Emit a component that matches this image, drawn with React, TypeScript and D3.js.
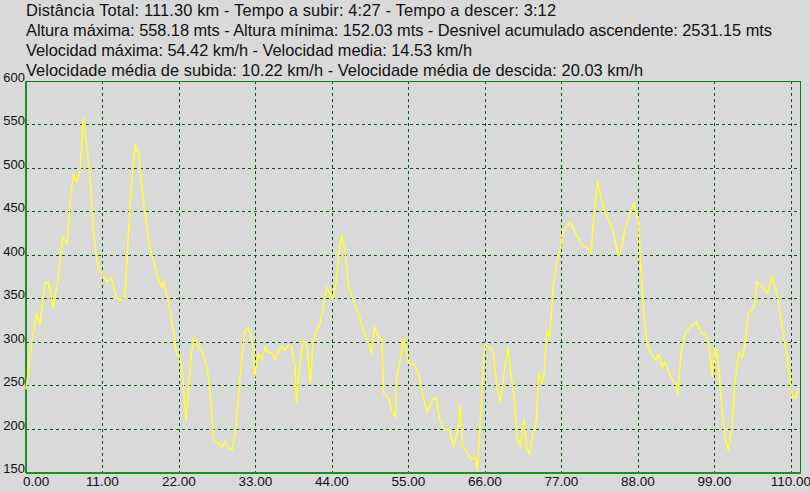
import React, { useEffect, useRef } from 'react';
import * as d3 from 'd3';

// header lines
const summaryLines = [
  'Distância Total: 111.30 km - Tempo a subir: 4:27 - Tempo a descer: 3:12',
  'Altura máxima: 558.18 mts - Altura mínima: 152.03 mts - Desnivel acumulado ascendente: 2531.15 mts',
  'Velocidad máxima: 54.42 km/h - Velocidad media: 14.53 km/h',
  'Velocidade média de subida: 10.22 km/h - Velocidade média de descida: 20.03 km/h',
];

const xTicks = [0, 11, 22, 33, 44, 55, 66, 77, 88, 99, 110];
const yTicks = [150, 200, 250, 300, 350, 400, 450, 500, 550, 600];

// profile: distance (km) and altitude (m)
const distanceKm = [
  0.0, 0.8, 1.5, 2.0, 2.7, 3.2, 3.9, 4.6, 5.3, 5.9, 6.3, 6.8, 7.3, 7.8, 8.2, 8.7, 9.2, 9.7,
  10.4, 10.9, 11.6, 12.3, 13.0, 13.8, 14.2, 14.6, 15.1, 15.7, 16.2, 16.6, 17.1, 17.8, 18.8,
  19.5, 19.8, 20.5, 21.2, 21.7, 22.2, 22.6, 23.0, 23.4, 23.8, 24.2, 24.8, 25.3, 26.0, 26.5,
  27.0, 27.7, 28.2, 28.6, 29.1, 29.6, 30.1, 30.5, 31.0, 31.5, 32.0, 32.5, 32.9, 33.4, 33.9,
  34.4, 34.9, 35.4, 35.8, 36.3, 36.8, 37.3, 37.7, 38.2, 38.7, 38.9, 39.3, 39.9, 40.4, 40.9,
  41.3, 41.8, 42.3, 42.8, 43.3, 43.6, 44.1, 44.6, 44.9, 45.4, 45.9, 46.4, 47.1, 47.8, 48.5,
  49.3, 49.7, 50.1, 50.7, 51.2, 51.4, 52.1, 52.6, 53.1, 53.3, 53.8, 54.3, 55.0, 55.7, 56.4,
  57.2, 57.7, 58.4, 59.0, 59.5, 60.0, 60.9, 61.5, 62.1, 62.4, 62.8, 63.4, 64.0, 64.6, 64.9,
  65.3, 65.7, 66.0, 66.8, 67.2, 67.7, 68.2, 68.8, 69.3, 69.7, 70.2, 70.6, 71.1, 71.6, 72.0,
  72.4, 72.9, 73.4, 73.7, 74.2, 74.5, 74.9, 75.3, 75.8, 76.3, 76.7, 77.3, 78.3, 79.0, 80.0,
  80.7, 81.3, 81.6, 82.2, 83.1, 83.8, 84.5, 85.2, 85.7, 86.2, 86.9, 87.4, 88.1, 88.4, 88.9,
  89.3, 89.8, 90.5, 91.0, 91.5, 91.9, 92.4, 93.0, 93.5, 93.7, 94.2, 94.8, 95.5, 96.4, 97.1,
  97.7, 98.2, 98.7, 99.1, 99.5, 100.1, 100.6, 101.0, 101.5, 102.0, 102.5, 103.0, 103.5,
  103.9, 104.7, 105.1, 105.9, 106.6, 107.3, 108.0, 108.7, 109.5, 110.2, 110.6, 111.0,
];

const altitudeM = [
  245, 298, 333, 319, 367, 369, 340, 371, 420, 413, 455, 494, 483, 498, 557, 528, 490, 425,
  382, 379, 369, 374, 350, 348, 351, 405, 475, 526, 517, 483, 448, 409, 379,
  362, 369, 344, 313, 285, 282, 252, 210, 248, 287, 305, 294, 290, 271, 241,
  186, 183, 179, 185, 178, 175, 195, 233, 279, 313, 316, 302, 260, 287, 279,
  294, 288, 287, 279, 290, 294, 290, 296, 294, 271, 231, 271, 302, 294, 252,
  302, 313, 321, 344, 363, 357, 348, 369, 394, 423, 402, 363, 346, 333, 313,
  298, 287, 317, 305, 302, 241, 236, 221, 213, 260, 279, 305, 275, 275, 264,
  233, 219, 233, 236, 210, 201, 198, 179, 198, 227, 179, 173, 164, 167, 152,
  206, 264, 296, 293, 287, 248, 231, 267, 293, 264, 236, 190, 179, 210, 179,
  170, 195, 210, 264, 252, 264, 313, 305, 363, 391, 402, 429, 437, 425, 411,
  408, 402, 440, 484, 452, 440, 425, 398, 409, 432, 448, 460, 437, 386, 325,
  298, 288, 279, 285, 271, 277, 265, 256, 250, 239, 287, 310, 317, 323, 310,
  308, 298, 260, 294, 279, 221, 187, 175, 202, 256, 288, 281, 302,
  333, 340, 369, 363, 356, 374, 356, 317, 279, 236, 235, 244,
];

// measured widths of the header lines in the original
const headerWidths = [530, 746, 446, 617];

const App: React.FC = () => {
  const svgRef = useRef<SVGSVGElement | null>(null);

  useEffect(() => {
    if (!svgRef.current) return;
    const svg = d3.select(svgRef.current);
    svg.selectAll('*').remove();

    const width = 810;
    const height = 492;
    const plot = { left: 26, top: 81, right: 800, bottom: 472 };
    const font = '"Liberation Sans", Arial, sans-serif';

    svg.append('rect')
      .attr('width', width)
      .attr('height', height)
      .attr('fill', '#d9d9d9');

    const x = d3.scaleLinear().domain([0, 111.3]).range([plot.left, plot.right]);
    const y = d3.scaleLinear().domain([150, 600]).range([plot.bottom, plot.top]);

    // grid
    const grid = svg.append('g')
      .attr('stroke', '#0a5a0a')
      .attr('stroke-width', 1)
      .attr('stroke-dasharray', '3,3');

    grid.selectAll('.vg')
      .data(xTicks.filter(d => d > 0))
      .join('line')
      .attr('x1', d => Math.round(x(d)) + 0.5)
      .attr('x2', d => Math.round(x(d)) + 0.5)
      .attr('y1', plot.top)
      .attr('y2', plot.bottom);

    grid.selectAll('.hg')
      .data(yTicks.filter(d => d > 150 && d < 600))
      .join('line')
      .attr('x1', plot.left)
      .attr('x2', plot.right)
      .attr('y1', d => Math.round(y(d)) + 0.5)
      .attr('y2', d => Math.round(y(d)) + 0.5);

    // frame
    svg.append('rect')
      .attr('x', plot.left + 0.5)
      .attr('y', plot.top + 0.5)
      .attr('width', plot.right - plot.left)
      .attr('height', plot.bottom - plot.top)
      .attr('fill', 'none')
      .attr('stroke', '#0f7a0f')
      .attr('stroke-width', 1);
    svg.append('line')
      .attr('x1', plot.left).attr('x2', plot.left)
      .attr('y1', plot.top).attr('y2', plot.bottom + 1)
      .attr('stroke', '#1f8f1f').attr('stroke-width', 2);
    svg.append('line')
      .attr('x1', plot.left).attr('x2', plot.right + 1)
      .attr('y1', plot.bottom + 1).attr('y2', plot.bottom + 1)
      .attr('stroke', '#1f8f1f').attr('stroke-width', 2);

    // profile line
    const points: [number, number][] = distanceKm.map((d, i) => [d, altitudeM[i]]);
    const line = d3.line<[number, number]>()
      .x(d => x(d[0]))
      .y(d => y(d[1]));

    svg.append('path')
      .datum(points)
      .attr('d', line)
      .attr('fill', 'none')
      .attr('stroke', '#ffff33')
      .attr('stroke-width', 1.5)
      .attr('stroke-linejoin', 'round');

    // y labels
    svg.append('g')
      .selectAll('text')
      .data(yTicks)
      .join('text')
      .attr('x', 25)
      .attr('y', d => y(d) + 1)
      .attr('text-anchor', 'end')
      .attr('font-family', font)
      .attr('font-size', 13)
      .attr('fill', '#111')
      .text(d => d);

    // x labels
    svg.append('g')
      .selectAll('text')
      .data(xTicks)
      .join('text')
      .attr('x', d => (d === 0 ? x(d) - 3 : x(d)))
      .attr('y', 486)
      .attr('text-anchor', d => (d === 0 ? 'start' : 'middle'))
      .attr('font-family', font)
      .attr('font-size', 13.5)
      .attr('fill', '#111')
      .text(d => d3.format('.2f')(d));

    // header
    svg.append('g')
      .selectAll('text')
      .data(summaryLines)
      .join('text')
      .attr('x', 26)
      .attr('y', (_, i) => 16 + i * 20)
      .attr('font-family', font)
      .attr('font-size', 16.4)
      .attr('textLength', (_, i) => headerWidths[i])
      .attr('lengthAdjust', 'spacing')
      .attr('fill', '#111')
      .text(d => d);
  }, []);

  return (
    <svg
      ref={svgRef}
      width="810"
      height="492"
      style={{ position: 'absolute', left: 0, top: 0 }}
    ></svg>
  );
};

export default App;
